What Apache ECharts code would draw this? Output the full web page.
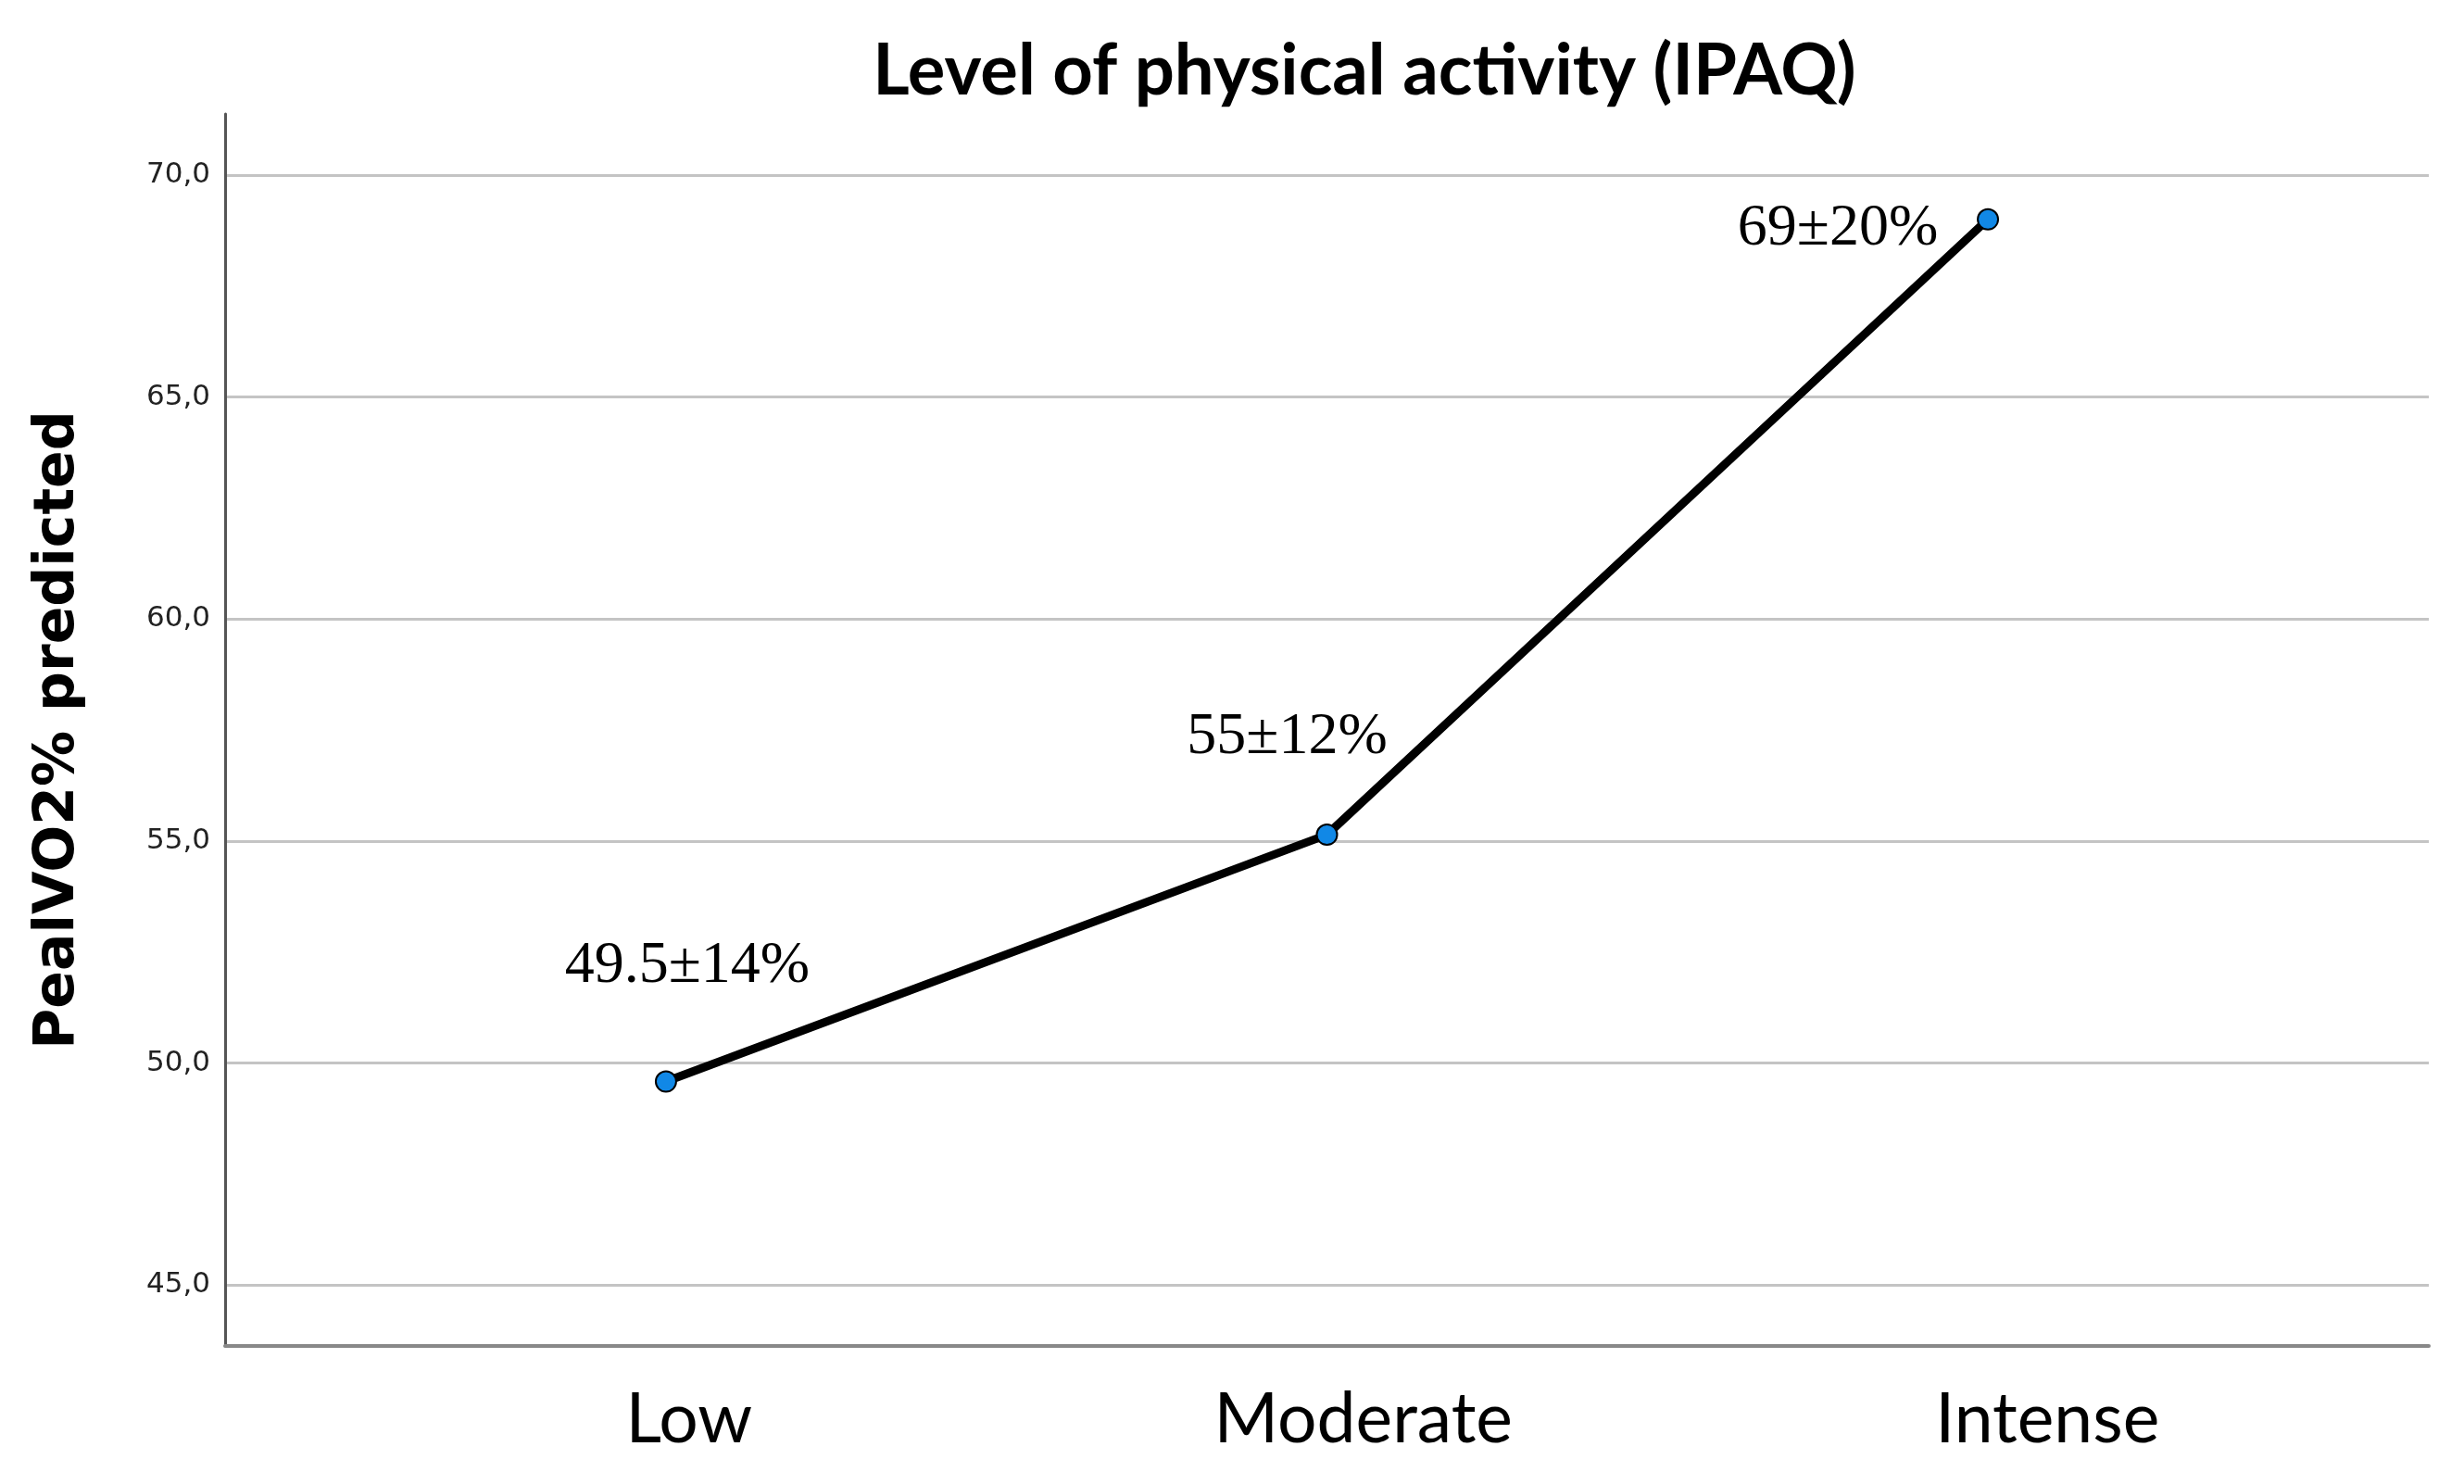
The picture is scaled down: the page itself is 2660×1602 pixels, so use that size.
<!DOCTYPE html>
<html>
<head>
<meta charset="utf-8">
<script src="https://cdn.jsdelivr.net/npm/echarts@6/dist/echarts.min.js"></script>
<style>
html,body{margin:0;padding:0;background:#fff;}
#chart{width:2660px;height:1602px;}
</style>
</head>
<body>
<div id="chart"></div>
<script>
const categories = ['Low', 'Moderate', 'Intense'];
const peakVO2 = [49.58, 55.14, 69.0];
const valueLabels = ['49.5±14%', '55±12%', '69±20%'];
const chartTitle = 'Level of physical activity (IPAQ)';
const yAxisTitle = 'PealVO2% predicted';

const labelOffsets = [[23, -124], [-43, -105], [-162, 10]];

const chart = echarts.init(document.getElementById('chart'), null, {renderer: 'canvas'});

const seriesData = categories.map((c, i) => ({
  value: [i, peakVO2[i]],
  label: {offset: labelOffsets[i]}
}));

const option = {
  backgroundColor: '#ffffff',
  animation: false,
  title: {
    text: chartTitle,
    left: 1468,
    top: 34,
    textAlign: 'center',
    textStyle: {
      fontFamily: 'Lato',
      fontWeight: 'bold',
      fontSize: 76,
      color: '#000'
    }
  },
  grid: {left: 243, right: 38, top: 123, bottom: 149, containLabel: false},
  xAxis: {
    type: 'value',
    min: -0.667,
    max: 2.667,
    splitLine: {show: false},
    axisTick: {show: false},
    axisLine: {show: true, onZero: false, lineStyle: {color: '#888888', width: 4}},
    axisLabel: {
      customValues: [0.035, 1.055, 2.09],
      formatter: v => categories[Math.round(v)] || '',
      fontFamily: 'Lato',
      fontSize: 75,
      color: '#000',
      margin: 42
    }
  },
  yAxis: {
    type: 'value',
    min: 43.625,
    max: 71.375,
    splitNumber: 5,
    name: yAxisTitle,
    nameLocation: 'middle',
    nameGap: 150,
    nameTextStyle: {
      fontFamily: 'DejaVu Sans',
      fontWeight: 'bold',
      fontSize: 60,
      color: '#000'
    },
    axisLine: {show: true, onZero: false, lineStyle: {color: '#555555', width: 3}},
    axisTick: {show: false},
    splitLine: {
      show: true,
      showMinLine: false,
      showMaxLine: false,
      lineStyle: {color: '#c4c4c4', width: 3}
    },
    axisLabel: {
      showMinLabel: false,
      showMaxLabel: false,
      formatter: v => v.toFixed(1).replace('.', ','),
      fontFamily: 'DejaVu Sans',
      fontSize: 31,
      color: '#222',
      margin: 16
    }
  },
  series: [{
    type: 'line',
    data: seriesData,
    symbol: 'circle',
    symbolSize: 22,
    lineStyle: {color: '#000', width: 9},
    itemStyle: {color: '#1188e6', borderColor: '#000', borderWidth: 2},
    z: 5,
    label: {
      show: true,
      position: 'inside',
      align: 'center',
      verticalAlign: 'middle',
      formatter: p => valueLabels[p.dataIndex],
      fontFamily: '"Liberation Serif", "Times New Roman", serif',
      fontSize: 64,
      color: '#000'
    }
  }]
};

chart.setOption(option);
</script>
</body>
</html>
